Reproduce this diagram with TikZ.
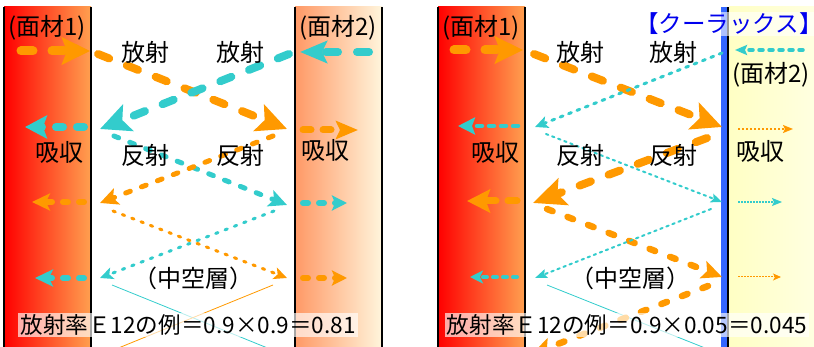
\documentclass[tikz,border=0pt]{standalone}
\usepackage{fontspec}
\setmainfont{Noto Sans CJK JP}
\usetikzlibrary{arrows.meta}
\definecolor{org}{HTML}{FF9900}
\definecolor{cyn}{HTML}{33CCCC}
\definecolor{mOneR}{HTML}{FFA050}
\definecolor{mTwoL}{HTML}{FF9966}
\definecolor{mTwoR}{HTML}{FFF5DC}
\definecolor{yelL}{HTML}{FFFFC4}
\definecolor{yelR}{HTML}{FFFFE0}
\definecolor{stripblue}{HTML}{3366FF}
\definecolor{titleblue}{HTML}{0000EE}
\tikzset{
  hd/.style n args={3}{-{Stealth[length=#1pt,width=#2pt,inset=#3pt]}},
  thickA/.style={line width=8pt, dash pattern=on 12pt off 19pt, line cap=round},
  medA/.style={line width=5pt, dash pattern=on 5pt off 12pt, line cap=round},
  thinA/.style={line width=3pt, dash pattern=on 2.5pt off 7.5pt, line cap=round},
  hairA/.style={line width=0.8pt},
  edge/.style={line width=1.2pt, black},
  lbl/.style={inner sep=0pt},
  formula/.style={fill=white, fill opacity=0.65, text opacity=1, inner sep=2pt, font=\fontsize{22.6}{26}\selectfont}
}
\begin{document}
\begin{tikzpicture}[x=1pt,y=-1pt,font=\fontsize{24}{28}\selectfont]
\useasboundingbox (0,0) rectangle (814,347);
\clip (0,0) rectangle (814,347);
% ---------- left panel materials
\shade[left color=red, right color=mOneR] (4,7) rectangle (91,347);
\draw[edge] (4,7) -- (4,347) (91,7) -- (91,347);
\shade[left color=mTwoL, right color=mTwoR] (295,7) rectangle (382,347);
\draw[edge] (295,7) -- (295,347) (382,7) -- (382,347);
% ---------- right panel materials
\shade[left color=red, right color=mOneR] (438,7) rectangle (525,347);
\draw[edge] (438,7) -- (438,347) (525,7) -- (525,347);
\fill[stripblue] (721,7) rectangle (727,347);
\shade[left color=yelL, right color=yelR] (729,7) rectangle (814,347);
\draw[line width=1.6pt, black] (728,7) -- (728,347);
% ---------- coordinates left
\coordinate (a1s) at (21,51);  \coordinate (a1e) at (90,51);
\coordinate (a2s) at (98,54);  \coordinate (a2e) at (287,129);
\coordinate (a3s) at (369,52); \coordinate (a3e) at (300,52);
\coordinate (a4s) at (289,54); \coordinate (a4e) at (100,129);
\coordinate (a5s) at (84,127); \coordinate (a5e) at (25,127);
\coordinate (a6s) at (303,130); \coordinate (a6e) at (358,130);
\coordinate (a7s) at (114,136); \coordinate (a7e) at (287,205);
\coordinate (a8s) at (273,136); \coordinate (a8e) at (100,203);
\coordinate (a9s) at (84,202); \coordinate (a9e) at (32,202);
\coordinate (a10s) at (303,203); \coordinate (a10e) at (347,203);
\coordinate (a11s) at (113,211); \coordinate (a11e) at (287,278);
\coordinate (a12s) at (274,211); \coordinate (a12e) at (100,278);
\coordinate (a13s) at (84,278); \coordinate (a13e) at (35,278);
\coordinate (a14s) at (303,278); \coordinate (a14e) at (347,278);
\coordinate (a15s) at (112,285); \coordinate (a15e) at (270,349);
\coordinate (a16s) at (273,285); \coordinate (a16e) at (116,349);
% ---------- coordinates right
\coordinate (b1s) at (454,50); \coordinate (b1e) at (523,50);
\coordinate (b2s) at (534,54); \coordinate (b2e) at (722,127);
\coordinate (b3s) at (803,50); \coordinate (b3e) at (735,50);
\coordinate (b4s) at (722,53); \coordinate (b4e) at (535,127);
\coordinate (b5s) at (518,126); \coordinate (b5e) at (458,126);
\coordinate (b6s) at (738,129); \coordinate (b6e) at (793,129);
\coordinate (b7s) at (546,134); \coordinate (b7e) at (722,202);
\coordinate (b8s) at (707,138); \coordinate (b8e) at (533,203);
\coordinate (b9s) at (517,201); \coordinate (b9e) at (467,201);
\coordinate (b10s) at (738,202); \coordinate (b10e) at (782,202);
\coordinate (b11s) at (547,209); \coordinate (b11e) at (722,277);
\coordinate (b12s) at (711,209); \coordinate (b12e) at (535,278);
\coordinate (b13s) at (517,277); \coordinate (b13e) at (470,277);
\coordinate (b14s) at (738,277); \coordinate (b14e) at (781,277);
\coordinate (b15s) at (547,285); \coordinate (b15e) at (705,348);
\coordinate (b16s) at (708,286); \coordinate (b16e) at (532,354);
% ---------- left arrows
\draw[org, thickA, line width=9pt, hd={28}{27}{5}] (a1s) -- (a1e);
\draw[org, thickA, hd={30}{28}{6}] (a2s) -- (a2e);
\draw[cyn, thickA, hd={27}{22}{5}] (a3s) -- (a3e);
\draw[cyn, thickA, hd={30}{28}{6}] (a4s) -- (a4e);
\draw[cyn, thickA, dash pattern=on 7pt off 14pt, hd={22}{23}{4}] (a5s) -- (a5e);
\draw[org, medA, line width=7pt, dash pattern=on 8pt off 12pt, hd={22}{18}{4}] (a6s) -- (a6e);
\draw[cyn, medA, hd={18}{17}{4}] (a7s) -- (a7e);
\draw[org, medA, hd={18}{17}{4}] (a8s) -- (a8e);
\draw[org, medA, line width=6pt, dash pattern=on 5pt off 11pt, hd={18}{17}{4}] (a9s) -- (a9e);
\draw[cyn, medA, line width=6pt, dash pattern=on 5pt off 11pt, hd={15}{15}{3}] (a10s) -- (a10e);
\draw[org, thinA, hd={13}{12}{3}] (a11s) -- (a11e);
\draw[cyn, thinA, hd={13}{12}{3}] (a12s) -- (a12e);
\draw[cyn, medA, line width=6pt, dash pattern=on 5pt off 11pt, hd={18}{17}{4}] (a13s) -- (a13e);
\draw[org, medA, line width=6pt, dash pattern=on 5pt off 11pt, hd={15}{15}{3}] (a14s) -- (a14e);
\draw[cyn, hairA] (a15s) -- (a15e);
\draw[org, hairA] (a16s) -- (a16e);
% ---------- right arrows
\draw[org, thickA, line width=9pt, hd={28}{27}{5}] (b1s) -- (b1e);
\draw[org, thickA, hd={30}{28}{6}] (b2s) -- (b2e);
\draw[cyn, line width=3.5pt, line cap=round, dash pattern=on 4pt off 6pt, hd={12}{10}{2}] (b3s) -- (b3e);
\draw[cyn, line width=3pt, line cap=round, dash pattern=on 3pt off 6pt, hd={13}{12}{3}] (b4s) -- (b4e);
\draw[cyn, line width=4.5pt, line cap=round, dash pattern=on 5pt off 7pt, hd={17}{17}{3}] (b5s) -- (b5e);
\draw[org, line width=1.5pt, dash pattern=on 2pt off 2pt, hd={10}{8}{2}] (b6s) -- (b6e);
\draw[cyn, line width=2pt, line cap=round, dash pattern=on 2.5pt off 4pt, hd={11}{9}{2}] (b7s) -- (b7e);
\draw[org, thickA, hd={32}{28}{6}] (b8s) -- (b8e);
\draw[org, line width=7pt, line cap=round, dash pattern=on 9pt off 12pt, hd={23}{23}{4}] (b9s) -- (b9e);
\draw[cyn, line width=1.2pt, dash pattern=on 1.5pt off 1.5pt, hd={10}{8}{2}] (b10s) -- (b10e);
\draw[org, line width=6.5pt, line cap=round, dash pattern=on 6pt off 16pt, hd={20}{18}{4}] (b11s) -- (b11e);
\draw[cyn, line width=2pt, line cap=round, dash pattern=on 2.5pt off 4pt, hd={12}{9}{2}] (b12s) -- (b12e);
\draw[cyn, line width=4pt, line cap=round, dash pattern=on 4pt off 6pt, hd={13}{13}{3}] (b13s) -- (b13e);
\draw[org, line width=1pt, dash pattern=on 1.5pt off 1.5pt, hd={8}{7}{2}] (b14s) -- (b14e);
\draw[cyn, hairA] (b15s) -- (b15e);
\draw[org, line width=6.5pt, line cap=round, dash pattern=on 6pt off 16pt, hd={20}{18}{4}] (b16s) -- (b16e);
% ---------- left labels
\node[lbl] (l1) at (47,28) {(面材1)};
\node[lbl] (l2) at (338,28) {(面材2)};
\node[lbl] (l3) at (145,52) {放射};
\node[lbl] (l4) at (240,52) {放射};
\node[lbl] (l5) at (145,155) {反射};
\node[lbl] (l6) at (240,155) {反射};
\node[lbl] (l7) at (59,152) {吸収};
\node[lbl] (l8) at (325,150) {吸収};
\node[lbl] (l9) at (193,278) {（中空層）};
\node[formula] (l10) at (188,325) {放射率Ｅ12の例＝0.9×0.9＝0.81};
% ---------- right labels
\node[lbl] (r1) at (481,28) {(面材1)};
\node[lbl, text=titleblue, fill=white, fill opacity=0.6, text opacity=1, inner sep=1pt, font=\fontsize{23.5}{27}\selectfont] (r2) at (729,24) {\kern-0.42em【クーラックス】\kern-0.42em};
\node[lbl] (r3) at (580,52) {放射};
\node[lbl] (r4) at (673,52) {放射};
\node[lbl] (r5) at (580,155) {反射};
\node[lbl] (r6) at (673,155) {反射};
\node[lbl] (r7) at (495,152) {吸収};
\node[lbl] (r8) at (760,151) {吸収};
\node[lbl] (r9) at (771,75) {(面材2)};
\node[lbl] (r10) at (630,278) {（中空層）};
\node[formula] (r11) at (627,325) {放射率Ｅ12の例＝0.9×0.05＝0.045};
\end{tikzpicture}
\end{document}
